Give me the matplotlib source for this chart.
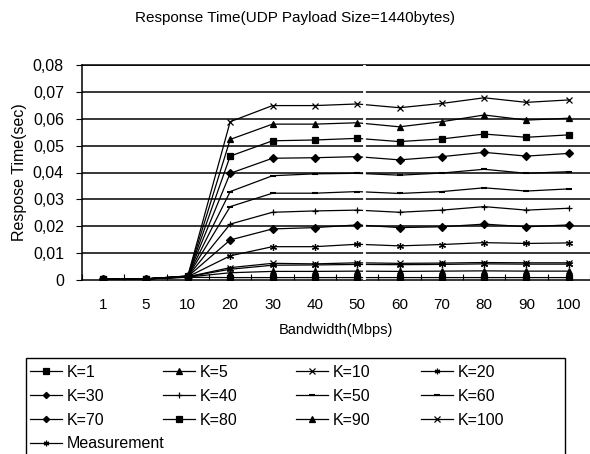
import numpy as np
import matplotlib
matplotlib.use('Agg')
import matplotlib.pyplot as plt
from matplotlib.ticker import FuncFormatter
from matplotlib.patches import Rectangle

plt.rcParams['font.family'] = ['Liberation Sans', 'DejaVu Sans']

bandwidth = ['1', '5', '10', '20', '30', '40', '50', '60', '70', '80', '90', '100']

k1 = [0.0003, 0.0004, 0.0010, 0.0009, 0.0009, 0.0009, 0.0009, 0.0009, 0.0009, 0.0009, 0.0009, 0.0009]
k5 = [0.0003, 0.0004, 0.0011, 0.0027, 0.0032, 0.0032, 0.0033, 0.0032, 0.0033, 0.0034, 0.0033, 0.0033]
k10 = [0.0003, 0.0004, 0.0012, 0.0046, 0.0062, 0.0060, 0.0064, 0.0062, 0.0063, 0.0065, 0.0064, 0.0064]
k20 = [0.0003, 0.0004, 0.0012, 0.0090, 0.0124, 0.0124, 0.0133, 0.0127, 0.0132, 0.0139, 0.0136, 0.0138]
k30 = [0.0003, 0.0004, 0.0013, 0.0149, 0.0190, 0.0195, 0.0205, 0.0195, 0.0198, 0.0208, 0.0198, 0.0205]
k40 = [0.0003, 0.0004, 0.0013, 0.0208, 0.0252, 0.0257, 0.0260, 0.0252, 0.0260, 0.0273, 0.0260, 0.0267]
k50 = [0.0003, 0.0004, 0.0013, 0.0273, 0.0323, 0.0323, 0.0329, 0.0322, 0.0329, 0.0343, 0.0331, 0.0339]
k60 = [0.0003, 0.0004, 0.0014, 0.0329, 0.0388, 0.0395, 0.0397, 0.0390, 0.0398, 0.0412, 0.0397, 0.0403]
k70 = [0.0003, 0.0004, 0.0014, 0.0397, 0.0453, 0.0455, 0.0459, 0.0447, 0.0459, 0.0475, 0.0461, 0.0471]
k80 = [0.0003, 0.0004, 0.0014, 0.0461, 0.0518, 0.0521, 0.0527, 0.0515, 0.0525, 0.0543, 0.0531, 0.0540]
k90 = [0.0003, 0.0004, 0.0015, 0.0523, 0.0580, 0.0580, 0.0585, 0.0570, 0.0589, 0.0614, 0.0595, 0.0602]
k100 = [0.0003, 0.0004, 0.0015, 0.0589, 0.0649, 0.0649, 0.0655, 0.0641, 0.0657, 0.0678, 0.0661, 0.0670]
measurement = [0.0003, 0.0004, 0.0012, 0.0040, 0.0055, 0.0056, 0.0058, 0.0057, 0.0058, 0.0060, 0.0059, 0.0059]

asterisk = (6, 2, 0)
series = [
    ('K=1', k1, 's'),
    ('K=5', k5, '^'),
    ('K=10', k10, 'x'),
    ('K=20', k20, asterisk),
    ('K=30', k30, 'D'),
    ('K=40', k40, '+'),
    ('K=50', k50, '_'),
    ('K=60', k60, '_'),
    ('K=70', k70, 'D'),
    ('K=80', k80, 's'),
    ('K=90', k90, '^'),
    ('K=100', k100, 'x'),
    ('Measurement', measurement, asterisk),
]

W, H = 590, 454
fig = plt.figure(figsize=(W / 100, H / 100), dpi=100)
ax = fig.add_axes([82 / W, 1 - 280 / H, 508 / W, 215 / H])

x = np.arange(len(bandwidth))
handles = {}
for name, vals, mk in series:
    ms = 4 if mk == 'D' else 5
    h, = ax.plot(x, vals, color='black', lw=0.9, marker=mk, ms=ms,
                 mew=1.5 if mk == '_' else 0.9, mfc='black', mec='black',
                 zorder=3)
    handles[name] = h

for yv in np.arange(0.01, 0.0801, 0.01):
    ax.axhline(yv, color='black', lw=1.1, zorder=1)

# white scan gap in the original
ax.axvline(6.16, color='white', lw=2, zorder=5)

ax.set_xlim(-0.5, len(bandwidth) - 0.5)
ax.set_ylim(0, 0.08)
ax.set_xticks(x)
ax.set_xticklabels(bandwidth)
ax.set_xticks(np.arange(-0.5, len(bandwidth)), minor=True)
ax.tick_params(axis='x', which='major', length=0, pad=13, labelsize=11)
ax.tick_params(axis='x', which='minor', direction='in', length=4, width=0.8)
ax.set_yticks(np.arange(0, 0.0801, 0.01))
ax.yaxis.set_major_formatter(FuncFormatter(lambda v, p: '0' if abs(v) < 1e-9 else ('%.2f' % v).replace('.', ',')))
ax.tick_params(axis='y', length=4, width=0.8, labelsize=11.5, pad=9)
for s in ax.spines.values():
    s.set_linewidth(1.1)
ax.spines['right'].set_visible(False)

ax.set_xlabel('Bandwidth(Mbps)', fontsize=10.5, labelpad=8)
ax.set_ylabel('Respose Time(sec)', fontsize=11.5, labelpad=4)
fig.text(0.5, 1 - 18 / H, 'Response Time(UDP Payload Size=1440bytes)', ha='center', va='center', fontsize=11)

# legend: four columns, frame drawn separately
columns = [['K=1', 'K=30', 'K=70', 'Measurement'],
           ['K=5', 'K=40', 'K=80'],
           ['K=10', 'K=50', 'K=90'],
           ['K=20', 'K=60', 'K=100']]
col_x = [30, 163, 296, 421]
for cx, names in zip(col_x, columns):
    lg = fig.legend([handles[n] for n in names], names, loc='upper left',
                    bbox_to_anchor=(cx / W, 1 - 365 / H), frameon=False,
                    fontsize=11.5, handlelength=2.0, handletextpad=0.3,
                    labelspacing=0.55, borderpad=0, borderaxespad=0,
                    markerscale=0.8)
fig.patches.append(Rectangle((26 / W, -0.05), (565 - 26) / W, 0.05 + 1 - 358 / H,
                             transform=fig.transFigure, fill=False,
                             edgecolor='black', lw=1.0))

fig.savefig('out.png', dpi=100)
